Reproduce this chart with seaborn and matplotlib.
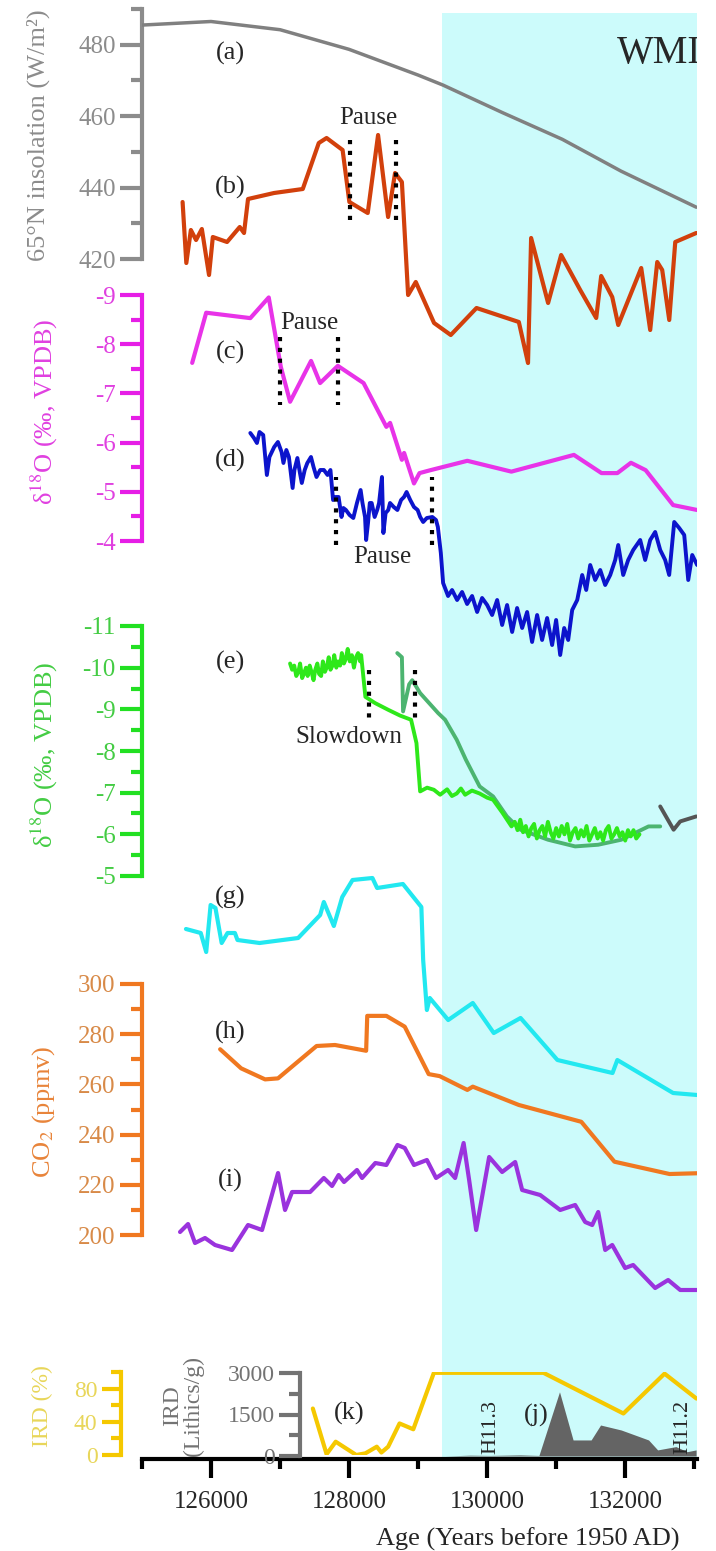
import matplotlib
matplotlib.use("Agg")
import matplotlib.pyplot as plt
import numpy as np
import pandas as pd
import seaborn as sns
from matplotlib.ticker import FixedLocator

# ---- datos (edad en años antes de 1950) ----
# (a) insolación 65N
ins_age = [125000, 126000, 127000, 128000, 129000, 129360, 130220, 131090, 131940, 133030]
ins_val = [485.5, 486.5, 484.2, 478.7, 471.5, 468.7, 461.0, 453.5, 444.6, 434.5]

# (b) curva sin eje (unidades relativas)
b_age = [125588, 125642, 125708, 125783, 125867, 125971, 126026, 126232, 126416, 126478,
         126536, 126913, 127329, 127561, 127674, 127906, 128004, 128270, 128420, 128565,
         128666, 128765, 128855, 128966, 129231, 129473, 129846, 130459, 130592, 130637,
         130883, 131072, 131348, 131580, 131652, 131812, 131899, 132232, 132362, 132464,
         132536, 132638, 132725, 133029]
b_val = [17.8, 11.7, 15.0, 14.0, 15.1, 10.5, 14.3, 13.8, 15.3, 14.7,
         18.1, 18.7, 19.1, 23.7, 24.2, 23.0, 17.8, 16.7, 24.5, 16.3,
         20.7, 19.8, 8.5, 9.8, 5.7, 4.5, 7.2, 5.8, 1.7, 14.2,
         7.7, 12.5, 9.0, 6.2, 10.4, 8.3, 5.5, 11.2, 5.0, 11.8,
         11.0, 6.0, 13.8, 14.7]

# (c) d18O magenta
c_age = [125727, 125930, 126569, 126836, 127011, 127145, 127449, 127580, 127837, 128210,
         128540, 128594, 128765, 128797, 128940, 129020, 129180, 129713, 130351, 131257,
         131657, 131886, 132083, 132296, 132694, 133043]
c_val = [-7.62, -8.64, -8.53, -8.95, -7.54, -6.83, -7.66, -7.21, -7.56, -7.21,
         -6.32, -6.40, -5.65, -5.79, -5.17, -5.38, -5.44, -5.63, -5.41, -5.75,
         -5.38, -5.38, -5.59, -5.44, -4.73, -4.63]

# (d) azul (unidades relativas)
d_age = [126569, 126622, 126665, 126702, 126756, 126809, 126846, 126915, 126969, 127022,
         127049, 127091, 127128, 127182, 127208, 127251, 127288, 127315, 127357, 127395,
         127448, 127485, 127528, 127581, 127635, 127688, 127730, 127768, 127805, 127848,
         127890, 127917, 127954, 128007, 128061, 128114, 128167, 128194, 128231, 128247,
         128274, 128300, 128327, 128370, 128407, 128434, 128476, 128497, 128529, 128567,
         128593, 128647, 128700, 128753, 128796, 128833, 128886, 128940, 128993, 129030,
         129073, 129126, 129206, 129259, 129286, 129329, 129362, 129434, 129492, 129565,
         129637, 129710, 129782, 129855, 129927, 130000, 130072, 130145, 130217, 130289,
         130362, 130434, 130507, 130579, 130651, 130724, 130796, 130869, 130941, 130999,
         131058, 131116, 131174, 131232, 131305, 131377, 131435, 131493, 131565, 131638,
         131710, 131783, 131855, 131899, 131971, 132043, 132116, 132217, 132289, 132362,
         132434, 132507, 132579, 132637, 132710, 132782, 132855, 132913, 132971, 133042]
d_val = [26.7, 26.2, 25.7, 26.8, 26.5, 22.5, 24.3, 25.3, 25.8, 24.8,
         23.7, 25.0, 24.3, 21.2, 23.0, 24.2, 22.7, 21.7, 23.0, 23.7,
         24.3, 23.3, 22.3, 23.0, 23.0, 22.5, 23.0, 20.0, 20.3, 20.3,
         18.3, 19.2, 19.0, 18.5, 18.2, 19.7, 21.0, 19.7, 18.3, 16.0,
         17.7, 19.7, 19.7, 18.3, 19.0, 19.7, 22.3, 16.7, 18.7, 19.0,
         19.7, 19.3, 19.0, 20.0, 20.3, 20.8, 20.0, 19.3, 19.0, 18.3,
         17.8, 18.2, 18.3, 18.0, 17.3, 14.7, 11.7, 10.4, 11.0, 10.0,
         10.8, 9.6, 10.4, 8.8, 10.2, 9.5, 8.5, 10.0, 7.5, 9.5,
         6.8, 9.2, 7.2, 8.8, 5.8, 8.5, 6.0, 8.2, 5.5, 8.0,
         4.5, 7.2, 6.0, 9.0, 10.0, 12.5, 11.0, 13.5, 12.0, 13.0,
         11.5, 12.5, 14.0, 15.5, 12.5, 14.0, 15.0, 16.0, 14.0, 16.0,
         16.8, 15.0, 14.0, 12.5, 17.8, 17.2, 16.5, 12.0, 14.5, 13.5]

# (e) d18O verde claro
e1_age = [127145, 127175, 127205, 127235, 127265, 127290, 127320, 127345, 127375, 127400,
          127430, 127455, 127485, 127510, 127540, 127565, 127595, 127620, 127650, 127675,
          127705, 127730, 127760, 127785, 127815, 127840, 127870, 127895, 127925, 127950,
          127980, 128010, 128040, 128070, 128100, 128130, 128160, 128175, 128236, 128377,
          128565, 128739, 128898, 128976, 129029, 129130, 129228, 129319, 129420, 129490,
          129559, 129620, 129681, 129780, 129891, 130000, 130086, 130221, 130353, 130400,
          130440, 130480, 130520, 130560, 130600, 130640, 130680, 130720, 130760, 130800,
          130840, 130880, 130920, 130960, 131000, 131040, 131080, 131120, 131160, 131200,
          131240, 131280, 131320, 131360, 131400, 131440, 131480, 131520, 131560, 131600,
          131640, 131680, 131720, 131760, 131800, 131840, 131880, 131920, 131960, 132000,
          132040, 132080, 132120, 132160, 132207]
e1_val = [-10.1, -9.95, -10.05, -9.8, -9.9, -10.1, -9.75, -9.85, -10.0, -9.8,
          -10.05, -9.9, -9.7, -9.95, -10.1, -9.85, -9.8, -10.15, -9.9, -10.0,
          -10.25, -9.95, -10.05, -10.3, -10.0, -10.15, -10.05, -10.35, -10.1, -10.2,
          -10.45, -10.15, -10.3, -10.0, -10.25, -10.35, -10.15, -10.3, -9.3, -9.15,
          -8.99, -8.85, -8.75, -8.19, -7.03, -7.12, -7.07, -6.95, -7.08, -6.92,
          -6.98, -7.1, -6.95, -7.05, -6.98, -6.88, -6.83, -6.52, -6.19, -6.3,
          -6.1, -6.35, -6.05, -6.2, -5.95, -6.15, -6.25, -5.9, -6.1, -6.2,
          -5.95, -6.3, -6.05, -5.9, -6.15, -5.95, -6.2, -6.0, -6.25, -5.85,
          -6.05, -6.15, -5.9, -6.1, -5.95, -6.2, -5.85, -6.0, -6.15, -5.9,
          -6.05, -5.85, -6.1, -6.2, -5.9, -6.0, -6.15, -5.95, -6.05, -5.85,
          -6.1, -5.95, -6.1, -5.9, -6.0]
# (e) verde medio
e2_age = [128698, 128765, 128782, 128870, 128915, 129029, 129290, 129391, 129559, 129692,
          129891, 130086, 130286, 130484, 130883, 131275, 131608, 131942, 132338, 132507]
e2_val = [-10.35, -10.25, -8.95, -9.6, -9.7, -9.39, -8.91, -8.75, -8.27, -7.79,
          -7.15, -6.91, -6.43, -6.11, -5.87, -5.71, -5.75, -5.87, -6.19, -6.19]
# (e) tramo gris
e3_age = [132507, 132701, 132797, 133029]
e3_val = [-6.67, -6.11, -6.31, -6.43]

# (g) cian (unidades relativas)
g_age = [125637, 125851, 125930, 125994, 126064, 126154, 126239, 126346, 126383, 126703,
         127262, 127581, 127634, 127779, 127901, 128050, 128338, 128406, 128780, 129047,
         129073, 129127, 129169, 129436, 129792, 130096, 130484, 131018, 131816, 131886,
         132694, 133042]
g_val = [17.1, 16.7, 14.8, 19.5, 19.2, 15.7, 16.7, 16.7, 16.0, 15.7,
         16.2, 18.5, 19.8, 17.4, 20.3, 22.0, 22.2, 21.2, 21.6, 19.3,
         14.0, 9.0, 10.2, 8.0, 9.7, 6.7, 8.2, 4.0, 2.7, 4.0,
         0.7, 0.5]

# (h) CO2 (ppmv)
h_age = [126132, 126436, 126783, 126970, 127529, 127796, 128247, 128263, 128540, 128806,
         129153, 129312, 129713, 129792, 130459, 131364, 131844, 132642, 133042]
h_val = [274.0, 266.4, 262.0, 262.4, 275.3, 275.7, 273.4, 287.3, 287.3, 283.0,
         264.1, 263.3, 257.8, 259.1, 251.8, 245.1, 229.2, 224.3, 224.6]

# (i) morado (unidades relativas)
i_age = [125551, 125667, 125768, 125913, 126058, 126304, 126536, 126739, 126971, 127072,
         127174, 127435, 127634, 127753, 127848, 127927, 128114, 128188, 128380, 128540,
         128701, 128806, 128940, 129127, 129260, 129434, 129536, 129659, 129739, 129841,
         130029, 130217, 130406, 130507, 130768, 131058, 131275, 131420, 131522, 131609,
         131710, 131812, 131999, 132115, 132434, 132622, 132797, 133042]
i_val = [7.8, 8.6, 6.7, 7.2, 6.5, 6.0, 8.5, 8.0, 13.7, 10.0,
         11.8, 11.8, 13.2, 12.4, 13.5, 12.8, 14.0, 13.2, 14.7, 14.5,
         16.5, 16.2, 14.5, 15.0, 13.2, 14.0, 13.2, 16.7, 13.0, 8.0,
         15.3, 13.8, 14.8, 12.0, 11.5, 10.0, 10.5, 8.8, 8.5, 9.8,
         6.0, 6.5, 4.2, 4.5, 2.2, 3.0, 2.0, 2.0]

# (k) IRD (%)
k_age = [127475, 127674, 127806, 128104, 128236, 128401, 128468, 128566, 128731, 128930,
         129228, 130816, 131974, 132570, 133032]
k_val = [56, 1, 16, 0, 2, 10, 3, 10, 38, 31, 99, 99, 50, 98, 68]

# (j) IRD (Lithics/g)
j_age = [129391, 129754, 130043, 130478, 130750, 131048, 131245, 131506, 131643, 131942,
         132338, 132470, 132735, 132897, 133027]
j_val = [0, 30, 20, 40, 20, 2320, 580, 580, 1120, 940, 580, 220, 340, 155, 220]

wmi_start = 129350
x_min, x_max = 125000, 133040

# ---- estilo ----
sns.set_theme(style="white")
plt.rcParams["font.family"] = ["Liberation Serif", "DejaVu Serif"]
plt.rcParams["mathtext.fontset"] = "stix"
plt.rcParams["axes.unicode_minus"] = False

W, H = 716, 1551
L, R = 142, 697
fig = plt.figure(figsize=(W / 100, H / 100), dpi=100)


def panel(top, bot, z=2):
    ax = fig.add_axes([L / W, 1 - bot / H, (R - L) / W, (bot - top) / H], zorder=z)
    ax.set_facecolor("none")
    ax.set_xlim(x_min, x_max)
    ax.xaxis.set_visible(False)
    for s in ["top", "right", "bottom", "left"]:
        ax.spines[s].set_visible(False)
    ax.set_yticks([])
    ax.grid(False)
    return ax


def y_axis(ax, major, minor, color, labelcolor, size=18, lmaj=16, lmin=8):
    ax.spines["left"].set_visible(True)
    ax.spines["left"].set_color(color)
    ax.spines["left"].set_linewidth(3)
    ax.yaxis.set_major_locator(FixedLocator(major))
    ax.yaxis.set_minor_locator(FixedLocator(minor))
    ax.tick_params(axis="y", which="major", left=True, length=lmaj, width=3,
                   color=color, labelcolor=labelcolor, labelsize=size, pad=3)
    ax.tick_params(axis="y", which="minor", left=True, length=lmin, width=3, color=color)


def fx(x, y):
    return x / W, 1 - y / H


def line(ax, x, y, color, lw=3.0, z=3):
    sns.lineplot(x=x, y=y, ax=ax, color=color, lw=lw, sort=False, estimator=None,
                 zorder=z, legend=False)
    ax.set_xlabel("")
    ax.set_ylabel("")


def dotted(ax, xs, y0, y1):
    ax.vlines(xs, y0, y1, colors="black", linestyles=(0, (1, 1.6)), lw=3, zorder=5)


# fondo con banda WMI y eje de edad
bg = panel(13, 1459, z=0)
bg.set_ylim(0, 1)
bg.axvspan(wmi_start, x_max + 100, color="#ccfbfb", lw=0)
bg.xaxis.set_visible(True)
bg.spines["bottom"].set_visible(True)
bg.spines["bottom"].set_color("black")
bg.spines["bottom"].set_linewidth(3)
bg.xaxis.set_major_locator(FixedLocator([126000, 128000, 130000, 132000]))
bg.xaxis.set_minor_locator(FixedLocator([125000, 127000, 129000, 131000, 133000]))
bg.tick_params(axis="x", which="major", bottom=True, direction="out", length=14, width=3,
               color="black", labelsize=18, pad=9)
bg.tick_params(axis="x", which="minor", bottom=True, direction="out", length=7, width=3,
               color="black")
bg.text(0.855, 0.972, "WMI", transform=bg.transAxes, fontsize=28, ha="left", va="center",
        clip_on=True)

# (a) insolación
ax_a = panel(9, 259)
ax_a.set_ylim(420, 490)
y_axis(ax_a, [420, 440, 460, 480], [430, 450, 470, 490], "#8c8c8c", "#8c8c8c")
line(ax_a, ins_age, ins_val, "#808080", lw=2.5)

# (b)
ax_b = panel(120, 380)
ax_b.set_ylim(0, 26)
line(ax_b, b_age, b_val, "#d2400c")
dotted(ax_b, [128014, 128673], 16.0, 24.3)

# (c) magenta
ax_c = panel(295, 541)
ax_c.set_ylim(-4, -9)
y_axis(ax_c, [-9, -8, -7, -6, -5, -4], [-8.5, -7.5, -6.5, -5.5, -4.5], "#e61ee6", "#e040e0")
line(ax_c, c_age, c_val, "#e833e8")
dotted(ax_c, [127000, 127840], -8.15, -6.76)

# (d) azul
ax_d = panel(420, 700)
ax_d.set_ylim(0, 28)
line(ax_d, d_age, d_val, "#0c14cc", lw=2.8)
dotted(ax_d, [127805, 129202], 15.5, 22.3)

# (e) verde
ax_e = panel(626, 876)
ax_e.set_ylim(-5, -11)
y_axis(ax_e, [-11, -10, -9, -8, -7, -6, -5], [-10.5, -9.5, -8.5, -7.5, -6.5, -5.5],
       "#22e022", "#44cc44")
line(ax_e, e2_age, e2_val, "#4cb470", lw=2.8)
line(ax_e, e1_age, e1_val, "#2ee81a", lw=2.8, z=4)
line(ax_e, e3_age, e3_val, "#555555", lw=2.8)
dotted(ax_e, [128290, 128950], -9.94, -8.67)

# (g) cian
ax_g = panel(870, 1100)
ax_g.set_ylim(0, 23)
line(ax_g, g_age, g_val, "#22e8f0")

# (h) CO2
ax_h = panel(984, 1235)
ax_h.set_ylim(200, 300)
y_axis(ax_h, [200, 220, 240, 260, 280, 300], [210, 230, 250, 270, 290], "#f07820", "#d88a48")
line(ax_h, h_age, h_val, "#f07820")

# (i) morado
ax_i = panel(1130, 1310)
ax_i.set_ylim(0, 18)
line(ax_i, i_age, i_val, "#9a33dd")

# (j) IRD líticos
ax_j = panel(1373, 1456, z=3)
ax_j.set_ylim(0, 3000)
y_axis(ax_j, [0, 1500, 3000], [750, 2250], "#737373", "#737373", size=17, lmaj=15, lmin=8)
ax_j.spines["left"].set_position(("data", 127290))
ax_j.fill_between(j_age, 0, j_val, color="#646464", lw=0, zorder=2)

# (k) IRD %
ax_k = panel(1372, 1455, z=4)
ax_k.set_ylim(0, 100)
y_axis(ax_k, [0, 40, 80], [20, 60, 100], "#f5c800", "#e8d65a", size=17, lmaj=14, lmin=7)
ax_k.spines["left"].set_position(("outward", 15))
line(ax_k, k_age, k_val, "#f5c800")

# etiquetas de ejes
fig.text(*fx(38, 135), "65°N insolation (W/m²)", rotation=90, ha="center", va="center",
         fontsize=19, color="#8c8c8c")
fig.text(*fx(44, 412), "δ$^{18}$O (‰, VPDB)", rotation=90, ha="center", va="center",
         fontsize=19, color="#e040e0")
fig.text(*fx(44, 755), "δ$^{18}$O (‰, VPDB)", rotation=90, ha="center", va="center",
         fontsize=19, color="#44cc44")
fig.text(*fx(44, 1112), "CO$_2$ (ppmv)", rotation=90, ha="center", va="center",
         fontsize=19, color="#e8843a")
fig.text(*fx(42, 1406), "IRD (%)", rotation=90, ha="center", va="center",
         fontsize=17, color="#e8d65a")
fig.text(*fx(183, 1406), "IRD\n(Lithics/g)", rotation=90, ha="center", va="center",
         fontsize=17, color="#737373", linespacing=1.0)
fig.text(*fx(528, 1539), "Age (Years before 1950 AD)", ha="center", va="center", fontsize=19)

# letras de panel y notas
for lab, xx, yy in [("(a)", 230, 53), ("(b)", 230, 187), ("(c)", 230, 352), ("(d)", 230, 460),
                    ("(e)", 230, 662), ("(g)", 230, 897), ("(h)", 230, 1032), ("(i)", 230, 1180),
                    ("(k)", 349, 1413), ("(j)", 536, 1415)]:
    fig.text(*fx(xx, yy), lab, ha="center", va="center", fontsize=19, zorder=10)

for lab, xx, yy in [("Pause", 368, 118), ("Pause", 309, 323), ("Pause", 382, 557),
                    ("Slowdown", 349, 737)]:
    fig.text(*fx(xx, yy), lab, ha="center", va="center", fontsize=18, zorder=10)

for lab, xx in [("H11.3", 491), ("H11.2", 683)]:
    fig.text(*fx(xx, 1427), lab, rotation=90, ha="center", va="center", fontsize=16, zorder=10)

fig.savefig("out.png", dpi=100)
